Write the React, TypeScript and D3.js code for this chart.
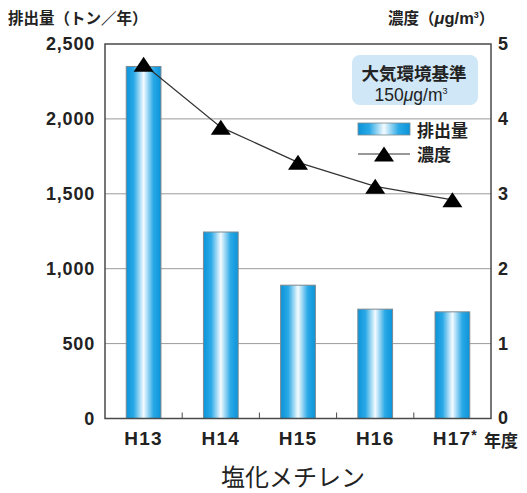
import React from "react";
import * as d3 from "d3";

const categories = ["H13", "H14", "H15", "H16", "H17"];
const categoryMarks = ["", "", "", "", "*"];
const emissions = [2350, 1245, 890, 730, 712];
const concentration = [4.73, 3.89, 3.42, 3.1, 2.92];
const leftTicks = [0, 500, 1000, 1500, 2000, 2500];
const rightTicks = [0, 1, 2, 3, 4, 5];

const W = 527;
const H = 493;
const PL = 105;
const PR = 491;
const PT = 44;
const PB = 418.5;

const LATIN = "'Liberation Sans', Arial, Helvetica, sans-serif";
const CJK = "'Noto Sans CJK JP', 'Noto Sans', sans-serif";

function tri(cx: number, cy: number, w = 20, h = 15) {
  return `M${cx},${cy - h / 2}L${cx + w / 2},${cy + h / 2}L${cx - w / 2},${cy + h / 2}Z`;
}

export default function App() {
  const x = d3
    .scaleBand<string>()
    .domain(categories)
    .range([PL, PR])
    .paddingInner(0.55)
    .paddingOuter(0.275);
  const step = x.step();
  const yL = d3.scaleLinear().domain([0, 2500]).range([PB, PT]);
  const yR = d3.scaleLinear().domain([0, 5]).range([PB, PT]);

  const line = d3
    .line<number>()
    .x((_, i) => (x(categories[i]) as number) + x.bandwidth() / 2)
    .y((d) => yR(d));

  const boundaries = categories.slice(1).map((c) => (x(c) as number) - (step - x.bandwidth()) / 2);

  return (
    <svg
      width={W}
      height={H}
      style={{ position: "absolute", left: 0, top: 0, background: "#fff" }}
    >
      <defs>
        <linearGradient id="barGrad" x1="0" x2="1" y1="0" y2="0">
          <stop offset="0%" stopColor="#0b93da" />
          <stop offset="22%" stopColor="#2aa9e6" />
          <stop offset="50%" stopColor="#f4fbff" />
          <stop offset="78%" stopColor="#2aa9e6" />
          <stop offset="100%" stopColor="#0b93da" />
        </linearGradient>
      </defs>

      {/* gridlines */}
      {leftTicks.slice(1, -1).map((t) => (
        <line key={t} x1={PL} x2={PR} y1={yL(t)} y2={yL(t)} stroke="#9a9a9a" strokeWidth={1} />
      ))}

      {/* bars */}
      {emissions.map((v, i) => (
        <rect
          key={i}
          x={x(categories[i])}
          y={yL(v)}
          width={x.bandwidth()}
          height={yL(0) - yL(v)}
          fill="url(#barGrad)"
          stroke="#7d8a90"
          strokeWidth={1}
        />
      ))}

      {/* frame */}
      <rect x={PL} y={PT} width={PR - PL} height={PB - PT} fill="none" stroke="#4a4a4a" strokeWidth={1.5} />

      {/* bottom ticks */}
      {boundaries.map((b, i) => (
        <line key={i} x1={b} x2={b} y1={PB} y2={PB - 6} stroke="#4a4a4a" strokeWidth={1} />
      ))}

      {/* concentration line */}
      <path d={line(concentration) as string} fill="none" stroke="#333" strokeWidth={1.2} />
      {concentration.map((v, i) => (
        <path key={i} d={tri((x(categories[i]) as number) + x.bandwidth() / 2, yR(v))} fill="#000" />
      ))}

      {/* left ticks */}
      {leftTicks.map((t) => (
        <text
          key={t}
          x={95}
          y={yL(t)}
          dy="0.36em"
          textAnchor="end"
          fontFamily={LATIN}
          fontWeight="bold"
          fontSize={18}
          letterSpacing={0.8}
          fill="#222"
        >
          {d3.format(",")(t)}
        </text>
      ))}
      {/* right ticks */}
      {rightTicks.map((t) => (
        <text
          key={t}
          x={498}
          y={yR(t)}
          dy="0.33em"
          textAnchor="start"
          fontFamily={LATIN}
          fontWeight="bold"
          fontSize={18}
          fill="#222"
        >
          {t}
        </text>
      ))}

      {/* x labels */}
      {categories.map((c, i) => (
        <text
          key={c}
          x={(x(c) as number) + x.bandwidth() / 2 + (categoryMarks[i] ? 3 : 0)}
          y={445}
          textAnchor="middle"
          fontFamily={LATIN}
          fontWeight="bold"
          fontSize={19}
          letterSpacing={1.2}
          fill="#222"
        >
          {c}
          {categoryMarks[i] && (
            <tspan fontSize={14} dy={-5}>
              {categoryMarks[i]}
            </tspan>
          )}
        </text>
      ))}
      <text x={484} y={447} fontFamily={CJK} fontWeight="bold" fontSize={17} fill="#222">
        年度
      </text>

      {/* axis titles */}
      <text x={8} y={24} fontFamily={CJK} fontWeight="bold" fontSize={15.5} fill="#222">
        排出量（トン／年）
      </text>
      <text x={388} y={24} fontFamily={CJK} fontWeight="bold" fontSize={15.5} fill="#222">
        濃度（
        <tspan fontFamily={LATIN} fontStyle="italic" fontSize={16.5}>μ</tspan>
        <tspan fontFamily={LATIN} fontSize={16.5}>g/m</tspan>
        <tspan fontFamily={LATIN} fontSize={9} dy={-6}>3</tspan>
        <tspan dy={6}>）</tspan>
      </text>

      {/* standard box */}
      <rect x={352} y={55} width={126} height={50} rx={8} fill="#cfe7f6" />
      <text x={414} y={80} textAnchor="middle" fontFamily={CJK} fontWeight="bold" fontSize={17.5} fill="#222">
        大気環境基準
      </text>
      <text x={411} y={101} textAnchor="middle" fontFamily={LATIN} fontWeight="normal" fontSize={17.5} fill="#222">
        150<tspan fontStyle="italic">μ</tspan>g/m
        <tspan fontSize={9} dy={-7}>3</tspan>
      </text>

      {/* legend */}
      <rect x={358} y={123} width={52} height={12} fill="url(#barGrad)" stroke="#7d8a90" strokeWidth={0.8} />
      <text x={417} y={137} fontFamily={CJK} fontWeight="bold" fontSize={17} fill="#222">
        排出量
      </text>
      <line x1={358} x2={410} y1={154} y2={154} stroke="#333" strokeWidth={1.2} />
      <path d={tri(384, 154)} fill="#000" />
      <text x={417} y={161} fontFamily={CJK} fontWeight="bold" fontSize={17} fill="#222">
        濃度
      </text>

      {/* chart title */}
      <text x={293} y={486} textAnchor="middle" fontFamily={CJK} fontSize={24} fill="#222">
        塩化メチレン
      </text>
    </svg>
  );
}
